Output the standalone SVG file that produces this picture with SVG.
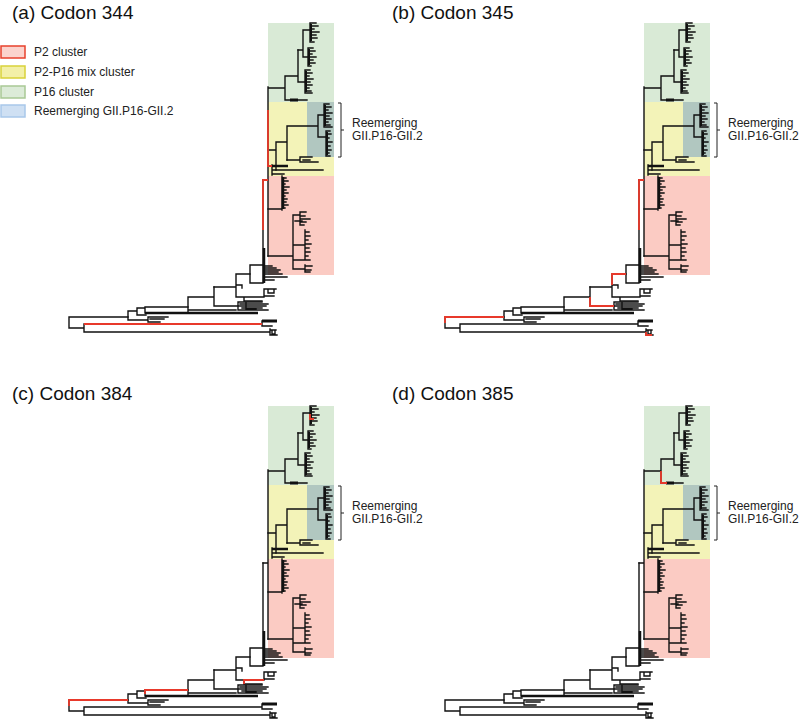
<svg xmlns="http://www.w3.org/2000/svg" width="800" height="719" viewBox="0 0 800 719">
<style>
.t{fill:none;stroke:#111;stroke-width:1.4;stroke-linecap:square}
.tk{fill:none;stroke:#111;stroke-width:3}
.r{fill:none;stroke:#e8392b;stroke-width:1.8}
.br{fill:none;stroke:#222;stroke-width:1}
.ttl{font-family:"Liberation Sans",Arial,sans-serif;font-size:19px;fill:#111}
.lab{font-family:"Liberation Sans",Arial,sans-serif;font-size:12px;fill:#222}
</style>
<defs>
<g id="shade">
<rect x="268" y="23" width="66" height="79" fill="#d9ead6"/>
<rect x="268" y="102" width="66" height="74" fill="#f3f3b8"/>
<rect x="307" y="102" width="27" height="55" fill="#b1c7c0"/>
<rect x="268" y="176" width="66" height="99" fill="#fbcbc3"/>
</g>
<g id="tree">
<path class="t" d="M69,317V328M69,317H128M69,328H84M84,324V332M84,324H262M84,332H270M262,321V326M262,326H272M270,329V335M270,330H276M270,335H277M272,330V334H275V330"/>
<path class="tk" d="M262,321H277"/>
<path class="t" d="M128,311V320M128,320H148M148,317V322M148,317H168M148,322H160M150,319H164M128,311H137M137,308V315M137,308H145M137,315H146M145,307V313M145,307H188"/>
<path class="tk" d="M145,313H258" style="stroke-width:2.5"/>
<path class="t" d="M188,297V313M188,297H214M188,310H236M214,287V306M214,306H238M238,302V310M238,302H262M240,304H268M238,306H266M242,308H262M238,310H268M246,303V309H256"/>
<path class="t" d="M214,287H236M236,274V297M236,297H264M264,289V296M264,289H276M264,296H274M268,290V293H274V290M244,297V301H262M236,285H242V288M236,274H250"/>
<path class="t" d="M250,265V283M250,265H263M250,283H263M263,180V283M263,266H272M263,268H276M263,270H280M263,272H278M263,274H282M263,277H287M263,280H274"/>
<path class="tk" d="M264,248V283" style="stroke-width:2.5"/>
<path class="t" d="M263,180H268M268,87V256M268,88H285M285,76V100M285,100H307M285,76H298M298,50V82M298,82H305M305,70V93M305,70H310M305,73H312M305,76H309M305,79H313M305,82H310M305,85H312M305,88H309M305,91H311M305,93H312"/>
<path class="tk" d="M290,100H298"/>
<path class="t" d="M298,50H303M303,30V57M303,57H308M303,30H310M310,23V42M310,23H316M310,26H318M310,29H314M310,32H319M310,35H316M310,38H317M310,42H314M308,48V66M308,48H313M308,51H315M308,54H312M308,57H316M308,60H313M308,63H315M308,66H311"/>
<path class="tk" d="M311,24V41M309,49V65M306,71V92" style="stroke-width:2"/>
<path class="t" d="M268,150H276M276,142V170M276,142H287M287,126V160M287,126H318M318,115V137M318,115H324M324,104V127M324,104H329M324,107H331M324,110H328M324,113H332M324,116H329M324,119H331M324,122H328M324,125H330M324,127H332M318,137H326M326,131V156M326,131H330M326,134H331M326,138H329M326,142H332M326,146H330M326,150H331M326,153H329M326,156H330"/>
<path class="tk" d="M325,105V126M327,132V155" style="stroke-width:2"/>
<path class="t" d="M287,160H300M300,157V162M300,157H312M300,162H318M303,160H310M276,170H323M272,165V175M272,170H293M272,174H284"/>
<path class="tk" d="M272,166H288" style="stroke-width:2.5"/>
<path class="t" d="M268,209H282M282,176V210M282,178H286M282,181H288M282,184H285M282,187H289M282,190H286M282,193H288M282,196H285M282,199H287M282,202H286M282,205H288M282,208H285"/>
<path class="tk" d="M283,177V209" style="stroke-width:2.5"/>
<path class="t" d="M268,256H293M293,215V269M293,215H300M300,212V225M300,212H306M300,216H305M300,219H310M300,222H306M300,225H304M295,221H302M293,245H305M305,230V260M305,232H309M305,236H310M305,240H308M305,244H311M305,248H309M305,252H310M305,256H308M293,260H310M293,269H305M305,265V272M305,266H312M305,270H311M305,272H310"/>
</g>
</defs>

<g id="legend">
<rect x="1" y="46" width="24" height="12" fill="#fbd3cd" stroke="#e8412c" stroke-width="1.5"/>
<rect x="1" y="66" width="24" height="12" fill="#f3f0a8" stroke="#d9d23a" stroke-width="1.5"/>
<rect x="1" y="86" width="24" height="12" fill="#dcebd8" stroke="#a9c995" stroke-width="1.5"/>
<rect x="1" y="105" width="24" height="12" fill="#cfe0f3" stroke="#a9c8ea" stroke-width="1.5"/>
<text class="lab" x="34" y="56">P2 cluster</text>
<text class="lab" x="34" y="76">P2-P16 mix cluster</text>
<text class="lab" x="34" y="96">P16 cluster</text>
<text class="lab" x="34" y="115">Reemerging GII.P16-GII.2</text>
</g>

<g id="panel-a">
<text class="ttl" x="12" y="19">(a) Codon 344</text>
<use href="#shade"/>
<use href="#tree"/>
<path class="r" d="M84,324H262M268,110V166H272M263,230V180H268"/>
<path class="br" d="M338,103H341V157H338M341,130H344"/>
<text class="lab" x="352" y="127">Reemerging</text>
<text class="lab" x="352" y="140">GII.P16-GII.2</text>
</g>

<g id="panel-b">
<text class="ttl" x="392" y="19">(b) Codon 345</text>
<g transform="translate(376,0)">
<use href="#shade"/>
<use href="#tree"/>
<path class="r" d="M69,323V317H128M214,297V306H238M236,285V274H250M263,230V180H268M270,332V335H276"/>
<path class="br" d="M338,103H341V157H338M341,130H344"/>
<text class="lab" x="352" y="127">Reemerging</text>
<text class="lab" x="352" y="140">GII.P16-GII.2</text>
</g>
</g>

<g id="panel-c">
<text class="ttl" x="12" y="400">(c) Codon 384</text>
<g transform="translate(0,383)">
<use href="#shade"/>
<use href="#tree"/>
<path class="r" d="M69,323V317H128M145,311V307H188M244,301V297H264M310,31V36H314"/>
<path class="br" d="M338,103H341V157H338M341,130H344"/>
<text class="lab" x="352" y="127">Reemerging</text>
<text class="lab" x="352" y="140">GII.P16-GII.2</text>
</g>
</g>

<g id="panel-d">
<text class="ttl" x="392" y="400">(d) Codon 385</text>
<g transform="translate(376,383)">
<use href="#shade"/>
<use href="#tree"/>
<path class="r" d="M285,88V100H291"/>
<path class="br" d="M338,103H341V157H338M341,130H344"/>
<text class="lab" x="352" y="127">Reemerging</text>
<text class="lab" x="352" y="140">GII.P16-GII.2</text>
</g>
</g>
</svg>
